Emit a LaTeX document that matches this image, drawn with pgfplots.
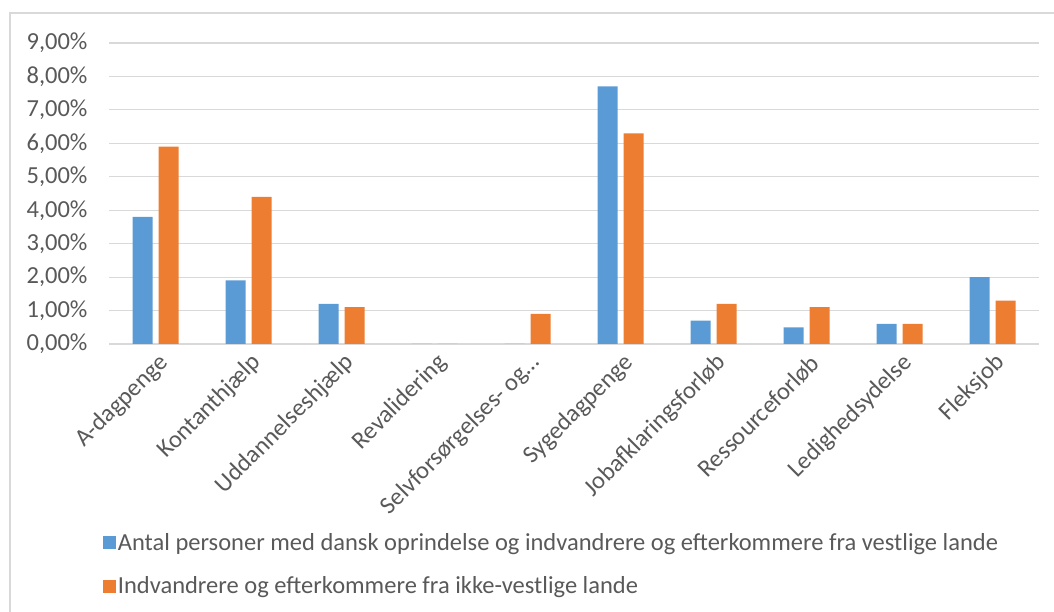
\documentclass[border=0pt]{standalone}
\usepackage{pgfplots}
\pgfplotsset{compat=1.18}
\usepackage{fontspec}
\setmainfont{Carlito}
\definecolor{xblue}{HTML}{5B9BD5}
\definecolor{xorange}{HTML}{ED7D31}
\definecolor{gridc}{HTML}{D9D9D9}
\definecolor{txt}{HTML}{595959}
\begin{document}
\begin{tikzpicture}[x=1pt,y=1pt]
\useasboundingbox (0,0) rectangle (1054,612);
\draw[gridc, line width=1.2pt] (10,-10) rectangle (1070,599);
\begin{axis}[
    at={(109pt,268pt)}, anchor=south west,
    scale only axis, width=930pt, height=301pt,
    ybar=6pt, bar width=20pt,
    xmin=-0.5, xmax=9.5, ymin=0, ymax=9,
    xtick={0,...,9},
    xticklabels={A-dagpenge, Kontanthjælp, Uddannelseshjælp, Revalidering,
        Selvforsørgelses- og…, Sygedagpenge, Jobafklaringsforløb,
        Ressourceforløb, Ledighedsydelse, Fleksjob},
    ytick={0,...,9},
    axis x line=bottom, axis y line=left,
    axis line style={-},
    x axis line style={gridc, line width=1.2pt},
    y axis line style={draw=none},
    major tick length=0pt,
    ymajorgrids, grid style={gridc, line width=1.2pt},
    /pgf/number format/assume math mode=true,
    yticklabel={\pgfmathprintnumber[fixed, fixed zerofill, precision=2, use comma]{\tick}\%},
    yticklabel style={txt, font=\fontsize{24.5}{28}\selectfont, xshift=-18pt},
    xticklabel style={txt, font=\fontsize{24.5}{28}\selectfont, rotate=45, anchor=east, yshift=-17pt, xshift=-1pt},
    legend style={at={(-0.01,-0.615)}, anchor=north west, draw=none, fill=none,
        font=\fontsize{24.5}{28}\selectfont, text=txt, row sep=21pt},
    legend cell align=left,
    legend image code/.code={\fill[#1] (0pt,-6.5pt) rectangle (13pt,6.5pt);},
]
\addplot[fill=xblue, draw=none] coordinates {
    (0,3.8) (1,1.9) (2,1.2) (3,0) (4,0) (5,7.7) (6,0.7) (7,0.5) (8,0.6) (9,2.0)};
\addplot[fill=xorange, draw=none] coordinates {
    (0,5.9) (1,4.4) (2,1.1) (3,0) (4,0.9) (5,6.3) (6,1.2) (7,1.1) (8,0.6) (9,1.3)};
\legend{Antal personer med dansk oprindelse og indvandrere og efterkommere fra vestlige lande,
    Indvandrere og efterkommere fra ikke-vestlige lande}
\end{axis}
\end{tikzpicture}
\end{document}
